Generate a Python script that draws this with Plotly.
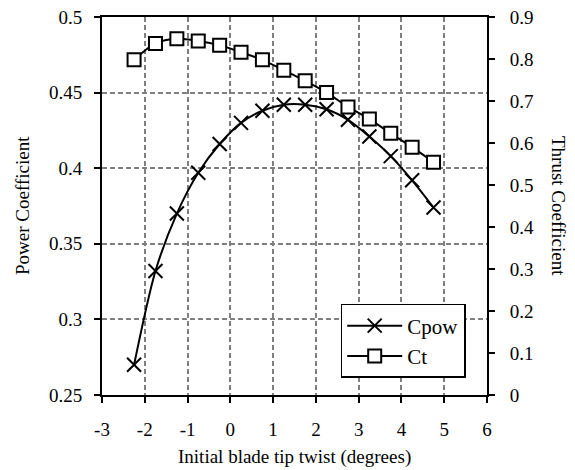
import plotly.graph_objects as go

twist = [-2.25, -1.75, -1.25, -0.75, -0.25, 0.25, 0.75, 1.25, 1.75, 2.25, 2.75, 3.25, 3.75, 4.25, 4.75]
cpow = [0.270, 0.332, 0.370, 0.397, 0.416, 0.430, 0.438, 0.442, 0.442, 0.439, 0.432, 0.421, 0.408, 0.392, 0.374]
ct = [0.798, 0.837, 0.848, 0.843, 0.833, 0.816, 0.798, 0.773, 0.748, 0.720, 0.686, 0.657, 0.623, 0.590, 0.554]

x_ticks = [-3, -2, -1, 0, 1, 2, 3, 4, 5, 6]
y1_ticks = [0.25, 0.3, 0.35, 0.4, 0.45, 0.5]
y2_ticks = [0, 0.1, 0.2, 0.3, 0.4, 0.5, 0.6, 0.7, 0.8, 0.9]

FONT = "Liberation Serif"
FS = 19

fig = go.Figure()
fig.add_trace(go.Scatter(
    x=twist, y=cpow, name="Cpow", mode="lines+markers",
    line=dict(color="black", width=2, shape="spline", smoothing=0.8),
    marker=dict(symbol="x-thin-open", size=14, line=dict(color="black", width=2)),
))
fig.add_trace(go.Scatter(
    x=twist, y=ct, name="Ct", mode="lines+markers", yaxis="y2",
    line=dict(color="black", width=2, shape="spline", smoothing=0.8),
    marker=dict(symbol="square", size=13, color="white", line=dict(color="black", width=2)),
))

grid = dict(showgrid=True, gridcolor="#808080", gridwidth=1.5, griddash="5px,3px")

fig.update_layout(
    width=575, height=470,
    margin=dict(l=102, r=88, t=17, b=75),
    paper_bgcolor="white", plot_bgcolor="white",
    font=dict(family=FONT, size=FS, color="black"),
    showlegend=True,
    legend=dict(x=0.62, y=0.045, xanchor="left", yanchor="bottom",
                bgcolor="white", bordercolor="black", borderwidth=1.5,
                font=dict(size=21, family=FONT), tracegroupgap=0, itemwidth=55),
    xaxis=dict(range=[-3, 6], tickvals=x_ticks, ticktext=[str(v) for v in x_ticks],
               showline=True, linecolor="black", linewidth=2, mirror=True,
               ticks="outside", ticklen=6, tickwidth=1.5, tickcolor="black",
               ticklabelstandoff=10, zeroline=False, automargin=False,
               **grid),
    yaxis=dict(range=[0.25, 0.5], tickvals=y1_ticks, ticktext=["0.25", "0.3", "0.35", "0.4", "0.45", "0.5"],
               showline=True, linecolor="black", linewidth=2,
               ticks="outside", ticklen=6, tickwidth=1.5, tickcolor="black",
               ticklabelstandoff=8, zeroline=False, automargin=False,
               **grid),
    yaxis2=dict(range=[0, 0.9], tickvals=y2_ticks, ticktext=[str(v) if v else "0" for v in y2_ticks],
                overlaying="y", side="right",
                showline=True, linecolor="black", linewidth=2,
                ticks="outside", ticklen=6, tickwidth=1.5, tickcolor="black",
                ticklabelstandoff=11, showgrid=False, zeroline=False, automargin=False),
    annotations=[
        dict(text="Initial blade tip twist (degrees)", xref="paper", yref="paper",
             x=0.5, y=0.0, yshift=-62, xanchor="center", yanchor="middle",
             showarrow=False, font=dict(size=FS, family=FONT)),
        dict(text="Power Coefficient", xref="paper", yref="paper",
             x=0.0, xshift=-80, y=0.5, xanchor="center", yanchor="middle",
             textangle=-90, showarrow=False, font=dict(size=FS, family=FONT)),
        dict(text="Thrust Coefficient", xref="paper", yref="paper",
             x=1.0, xshift=72, y=0.5, xanchor="center", yanchor="middle",
             textangle=90, showarrow=False, font=dict(size=FS, family=FONT)),
    ],
)

fig.write_html("out.html")
